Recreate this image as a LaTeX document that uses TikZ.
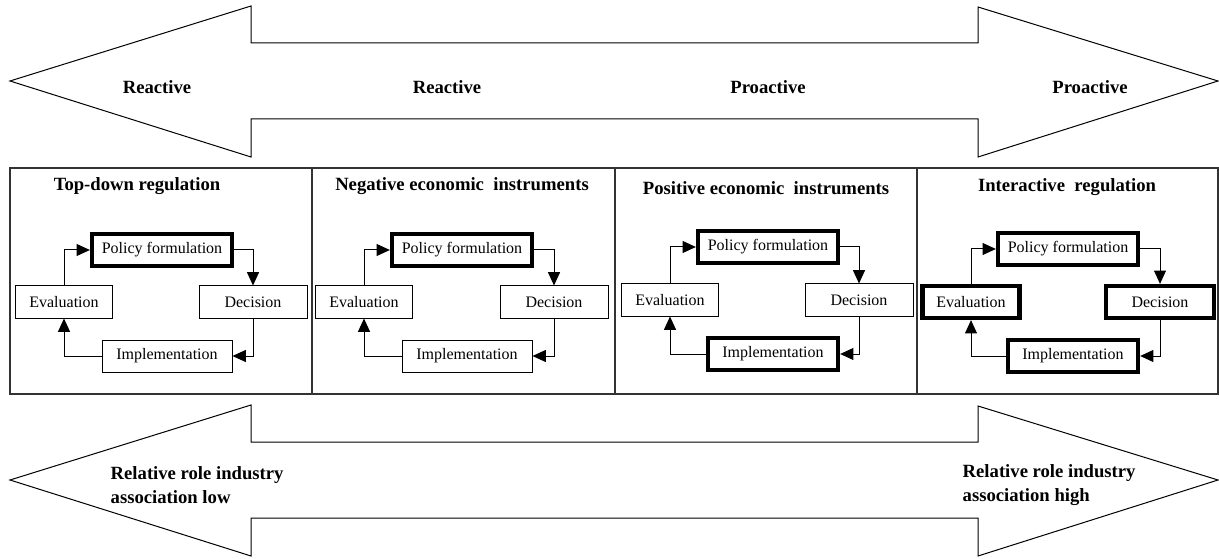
\documentclass[tikz,border=0pt]{standalone}
\usepackage{fontspec}
\setmainfont{Liberation Serif}
\usetikzlibrary{arrows.meta, positioning}

\begin{document}
\begin{tikzpicture}[
    x=0.75pt, y=-0.75pt,
    stagebox/.style={rectangle, draw, line width=0.75pt, inner sep=0pt, minimum height=24pt, font=\fontsize{12}{14}\selectfont},
    keybox/.style={stagebox, line width=3.2pt},
    title/.style={font=\fontsize{14}{18}\selectfont\bfseries},
    bigarrow/.style={draw, line width=0.75pt, fill=white},
    frame/.style={draw=black!80, line width=1pt},
    arrow/.style={line width=0.75pt, -{Triangle[length=10pt, width=9pt]}}
]
\useasboundingbox (0,0) rectangle (1219,559);

% Top double arrow
\draw[bigarrow] (10,81) -- (251,6) -- (251,43) -- (978,43) -- (978,7) -- (1218,81)
    -- (978,157) -- (978,119) -- (251,119) -- (251,157) -- cycle;
\node[title] (re1) at (157,87) {Reactive};
\node[title] (re2) at (447,87) {Reactive};
\node[title] (pro1) at (768,87) {Proactive};
\node[title] (pro2) at (1090,87) {Proactive};

% Bottom double arrow
\draw[bigarrow] (10,480) -- (251,405) -- (251,442) -- (978,442) -- (978,406) -- (1218,480)
    -- (978,556) -- (978,518) -- (251,518) -- (251,556) -- cycle;
\node[title, align=left, anchor=west] (low) at (106,485) {Relative role industry\\association low};
\node[title, align=left, anchor=west] (high) at (958,485) {Relative role industry\\association high};

% Panels
\draw[frame] (10,168) rectangle (1218,394);
\draw[frame] (312,168) -- (312,394);
\draw[frame] (615,168) -- (615,394);
\draw[frame] (917,168) -- (917,394);

% Top-down regulation
\node[title] (t1) at (137,186) {Top-down regulation};
\node[keybox, minimum width=105pt] (pol1) at (162,250) {Policy formulation};
\node[stagebox, minimum width=81pt] (dec1) at (253,302) {Decision};
\node[stagebox, minimum width=97.5pt] (imp1) at (167,356) {Implementation};
\node[stagebox, minimum width=72.75pt] (eva1) at (64,302) {Evaluation};

% Negative economic instruments
\node[title] (t2) at (462,186) {Negative economic\ \ instruments};
\node[keybox, minimum width=105pt] (pol2) at (462,250) {Policy formulation};
\node[stagebox, minimum width=81pt] (dec2) at (554,302) {Decision};
\node[stagebox, minimum width=97.5pt] (imp2) at (467,356) {Implementation};
\node[stagebox, minimum width=72.75pt] (eva2) at (364,302) {Evaluation};

% Positive economic instruments
\node[title] (t3) at (766,188) {Positive economic\ \ instruments};
\node[keybox, minimum width=105pt] (pol3) at (768,247) {Policy formulation};
\node[stagebox, minimum width=81pt] (dec3) at (859,300) {Decision};
\node[keybox, minimum width=97.5pt] (imp3) at (773,354) {Implementation};
\node[stagebox, minimum width=72.75pt] (eva3) at (670,300) {Evaluation};

% Interactive regulation
\node[title] (t4) at (1067,187) {Interactive\ \ regulation};
\node[keybox, minimum width=105pt] (pol4) at (1068,249) {Policy formulation};
\node[keybox, minimum width=81pt] (dec4) at (1160,302) {Decision};
\node[keybox, minimum width=97.5pt] (imp4) at (1073,356) {Implementation};
\node[keybox, minimum width=72.75pt] (eva4) at (971,302) {Evaluation};

% Cycle arrows
\draw[arrow] (pol1.east) -| (dec1.north);
\draw[arrow] (dec1.south) |- (imp1.east);
\draw[arrow] (imp1.west) -| (eva1.south);
\draw[arrow] (eva1.north) |- (pol1.west);

\draw[arrow] (pol2.east) -| (dec2.north);
\draw[arrow] (dec2.south) |- (imp2.east);
\draw[arrow] (imp2.west) -| (eva2.south);
\draw[arrow] (eva2.north) |- (pol2.west);

\draw[arrow] (pol3.east) -| (dec3.north);
\draw[arrow] (dec3.south) |- (imp3.east);
\draw[arrow] (imp3.west) -| (eva3.south);
\draw[arrow] (eva3.north) |- (pol3.west);

\draw[arrow] (pol4.east) -| (dec4.north);
\draw[arrow] (dec4.south) |- (imp4.east);
\draw[arrow] (imp4.west) -| (eva4.south);
\draw[arrow] (eva4.north) |- (pol4.west);

\end{tikzpicture}
\end{document}
